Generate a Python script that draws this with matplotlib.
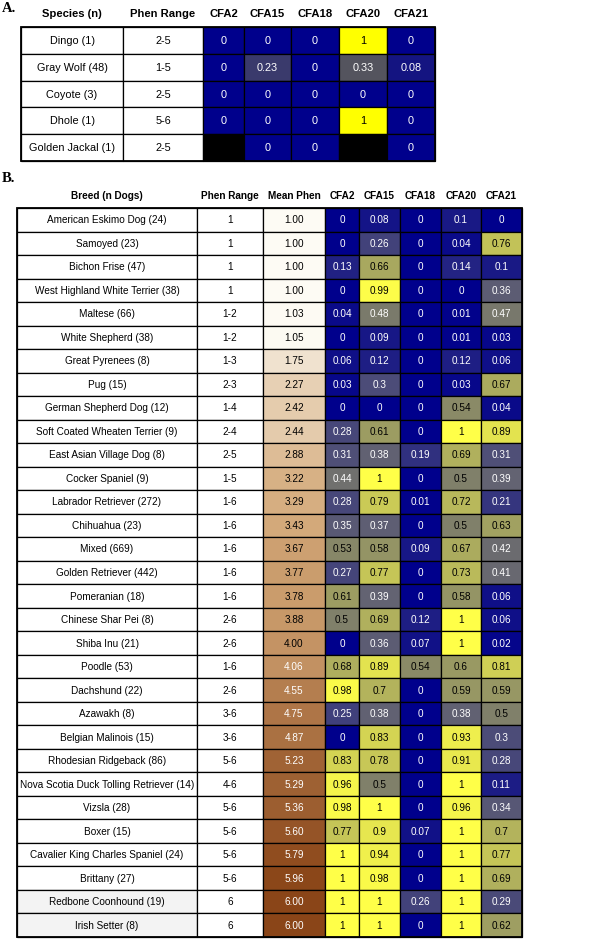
import numpy as np
import matplotlib
matplotlib.use("Agg")
import matplotlib.pyplot as plt
from matplotlib.patches import Rectangle
from matplotlib.colors import LinearSegmentedColormap

# ---------------- data ----------------
cfa_cols = ["CFA2", "CFA15", "CFA18", "CFA20", "CFA21"]

species = ["Dingo (1)", "Gray Wolf (48)", "Coyote (3)", "Dhole (1)", "Golden Jackal (1)"]
species_range = ["2-5", "1-5", "2-5", "5-6", "2-5"]
species_vals = [
    [0, 0, 0, 1, 0],
    [0, 0.23, 0, 0.33, 0.08],
    [0, 0, 0, 0, 0],
    [0, 0, 0, 1, 0],
    [np.nan, 0, 0, np.nan, 0],
]

breeds = ["American Eskimo Dog (24)", "Samoyed (23)", "Bichon Frise (47)",
          "West Highland White Terrier (38)", "Maltese (66)", "White Shepherd (38)",
          "Great Pyrenees (8)", "Pug (15)", "German Shepherd Dog (12)",
          "Soft Coated Wheaten Terrier (9)", "East Asian Village Dog (8)",
          "Cocker Spaniel (9)", "Labrador Retriever (272)", "Chihuahua (23)",
          "Mixed (669)", "Golden Retriever (442)", "Pomeranian (18)",
          "Chinese Shar Pei (8)", "Shiba Inu (21)", "Poodle (53)", "Dachshund (22)",
          "Azawakh (8)", "Belgian Malinois (15)", "Rhodesian Ridgeback (86)",
          "Nova Scotia Duck Tolling Retriever (14)", "Vizsla (28)", "Boxer (15)",
          "Cavalier King Charles Spaniel (24)", "Brittany (27)",
          "Redbone Coonhound (19)", "Irish Setter (8)"]
breed_range = ["1", "1", "1", "1", "1-2", "1-2", "1-3", "2-3", "1-4", "2-4", "2-5",
               "1-5", "1-6", "1-6", "1-6", "1-6", "1-6", "2-6", "2-6", "1-6", "2-6",
               "3-6", "3-6", "5-6", "4-6", "5-6", "5-6", "5-6", "5-6", "6", "6"]
mean_phen = [1.00, 1.00, 1.00, 1.00, 1.03, 1.05, 1.75, 2.27, 2.42, 2.44, 2.88, 3.22,
             3.29, 3.43, 3.67, 3.77, 3.78, 3.88, 4.00, 4.06, 4.55, 4.75, 4.87, 5.23,
             5.29, 5.36, 5.60, 5.79, 5.96, 6.00, 6.00]
breed_vals = [
    [0, 0.08, 0, 0.1, 0],
    [0, 0.26, 0, 0.04, 0.76],
    [0.13, 0.66, 0, 0.14, 0.1],
    [0, 0.99, 0, 0, 0.36],
    [0.04, 0.48, 0, 0.01, 0.47],
    [0, 0.09, 0, 0.01, 0.03],
    [0.06, 0.12, 0, 0.12, 0.06],
    [0.03, 0.3, 0, 0.03, 0.67],
    [0, 0, 0, 0.54, 0.04],
    [0.28, 0.61, 0, 1, 0.89],
    [0.31, 0.38, 0.19, 0.69, 0.31],
    [0.44, 1, 0, 0.5, 0.39],
    [0.28, 0.79, 0.01, 0.72, 0.21],
    [0.35, 0.37, 0, 0.5, 0.63],
    [0.53, 0.58, 0.09, 0.67, 0.42],
    [0.27, 0.77, 0, 0.73, 0.41],
    [0.61, 0.39, 0, 0.58, 0.06],
    [0.5, 0.69, 0.12, 1, 0.06],
    [0, 0.36, 0.07, 1, 0.02],
    [0.68, 0.89, 0.54, 0.6, 0.81],
    [0.98, 0.7, 0, 0.59, 0.59],
    [0.25, 0.38, 0, 0.38, 0.5],
    [0, 0.83, 0, 0.93, 0.3],
    [0.83, 0.78, 0, 0.91, 0.28],
    [0.96, 0.5, 0, 1, 0.11],
    [0.98, 1, 0, 0.96, 0.34],
    [0.77, 0.9, 0.07, 1, 0.7],
    [1, 0.94, 0, 1, 0.77],
    [1, 0.98, 0, 1, 0.69],
    [1, 1, 0.26, 1, 0.29],
    [1, 1, 0, 1, 0.62],
]

# ---------------- styling ----------------
FONT = ["Liberation Sans", "DejaVu Sans"]
heat_cmap = LinearSegmentedColormap.from_list("heat", ["#00008C", "#FFFF48"])
heat_cmap_a = LinearSegmentedColormap.from_list("heatA", ["#00008C", "#FFFF00"])
phen_cmap = LinearSegmentedColormap.from_list(
    "phen", [(0.0, "#FDFBF4"), (0.5, "#D2A777"), (1.0, "#8A4518")])

W, H = 608, 939
fig = plt.figure(figsize=(W / 100, H / 100), dpi=100)
ax = fig.add_axes([0, 0, 1, 1])
ax.set_xlim(0, W)
ax.set_ylim(H, 0)
ax.axis("off")

LW = 0.9


def cell(x0, x1, y0, y1, fc, txt, tc="black", fs=7.2):
    ax.add_patch(Rectangle((x0, y0), x1 - x0, y1 - y0, facecolor=fc,
                           edgecolor="black", linewidth=LW))
    ax.text((x0 + x1) / 2, (y0 + y1) / 2 + 0.5, txt, ha="center", va="center",
            fontsize=fs, color=tc, family=FONT)


# ---------------- Panel A ----------------
ax.text(2, 9, "A.", fontsize=10.5, fontweight="bold", family=["Liberation Serif"],
        ha="left", va="center")
xa = [21, 123, 203, 244, 291, 339, 387, 435]
ya0, ya1 = 27, 161
rha = (ya1 - ya0) / len(species)
heads_a = ["Species (n)", "Phen Range"] + cfa_cols
for j, h in enumerate(heads_a):
    ax.text((xa[j] + xa[j + 1]) / 2, 14, h, ha="center", va="center",
            fontsize=8.1, fontweight="bold", family=FONT)
for i, sp in enumerate(species):
    y0 = ya0 + i * rha
    y1 = y0 + rha
    cell(xa[0], xa[1], y0, y1, "white", sp, fs=7.8)
    cell(xa[1], xa[2], y0, y1, "white", species_range[i], fs=7.8)
    for j, v in enumerate(species_vals[i]):
        v = float(v)
        if np.isnan(v):
            cell(xa[2 + j], xa[3 + j], y0, y1, "black", "")
        else:
            cell(xa[2 + j], xa[3 + j], y0, y1, heat_cmap_a(v), f"{v:g}",
                 tc="white" if v < 0.5 else "black", fs=7.8)
ax.add_patch(Rectangle((xa[0], ya0), xa[-1] - xa[0], ya1 - ya0, fill=False,
                       edgecolor="black", linewidth=1.3))

# ---------------- Panel B ----------------
ax.text(2, 179, "B.", fontsize=10.5, fontweight="bold", family=["Liberation Serif"],
        ha="left", va="center")
xb = [17, 197, 263, 325, 359, 400, 441, 481, 522]
yb0, yb1 = 208, 937
rhb = (yb1 - yb0) / len(breeds)
heads_b = ["Breed (n Dogs)", "Phen Range", "Mean Phen"] + cfa_cols
for j, h in enumerate(heads_b):
    ax.text((xb[j] + xb[j + 1]) / 2, 196, h, ha="center", va="center",
            fontsize=7.2, fontweight="bold", family=FONT)
for i, br in enumerate(breeds):
    y0 = yb0 + i * rhb
    y1 = y0 + rhb
    bg = "#F3F3F3" if i >= len(breeds) - 2 else "white"
    cell(xb[0], xb[1], y0, y1, bg, br)
    cell(xb[1], xb[2], y0, y1, "white", breed_range[i])
    m = float(mean_phen[i])
    cell(xb[2], xb[3], y0, y1, phen_cmap((m - 1) / 5), f"{m:.2f}",
         tc="white" if m > 4.02 else "black")
    for j, v in enumerate(breed_vals[i]):
        v = float(v)
        cell(xb[3 + j], xb[4 + j], y0, y1, heat_cmap(v), f"{v:g}",
             tc="white" if v < 0.5 else "black")
ax.add_patch(Rectangle((xb[0], yb0), xb[-1] - xb[0], yb1 - yb0, fill=False,
                       edgecolor="black", linewidth=1.3))

fig.savefig("out.png", dpi=100)
